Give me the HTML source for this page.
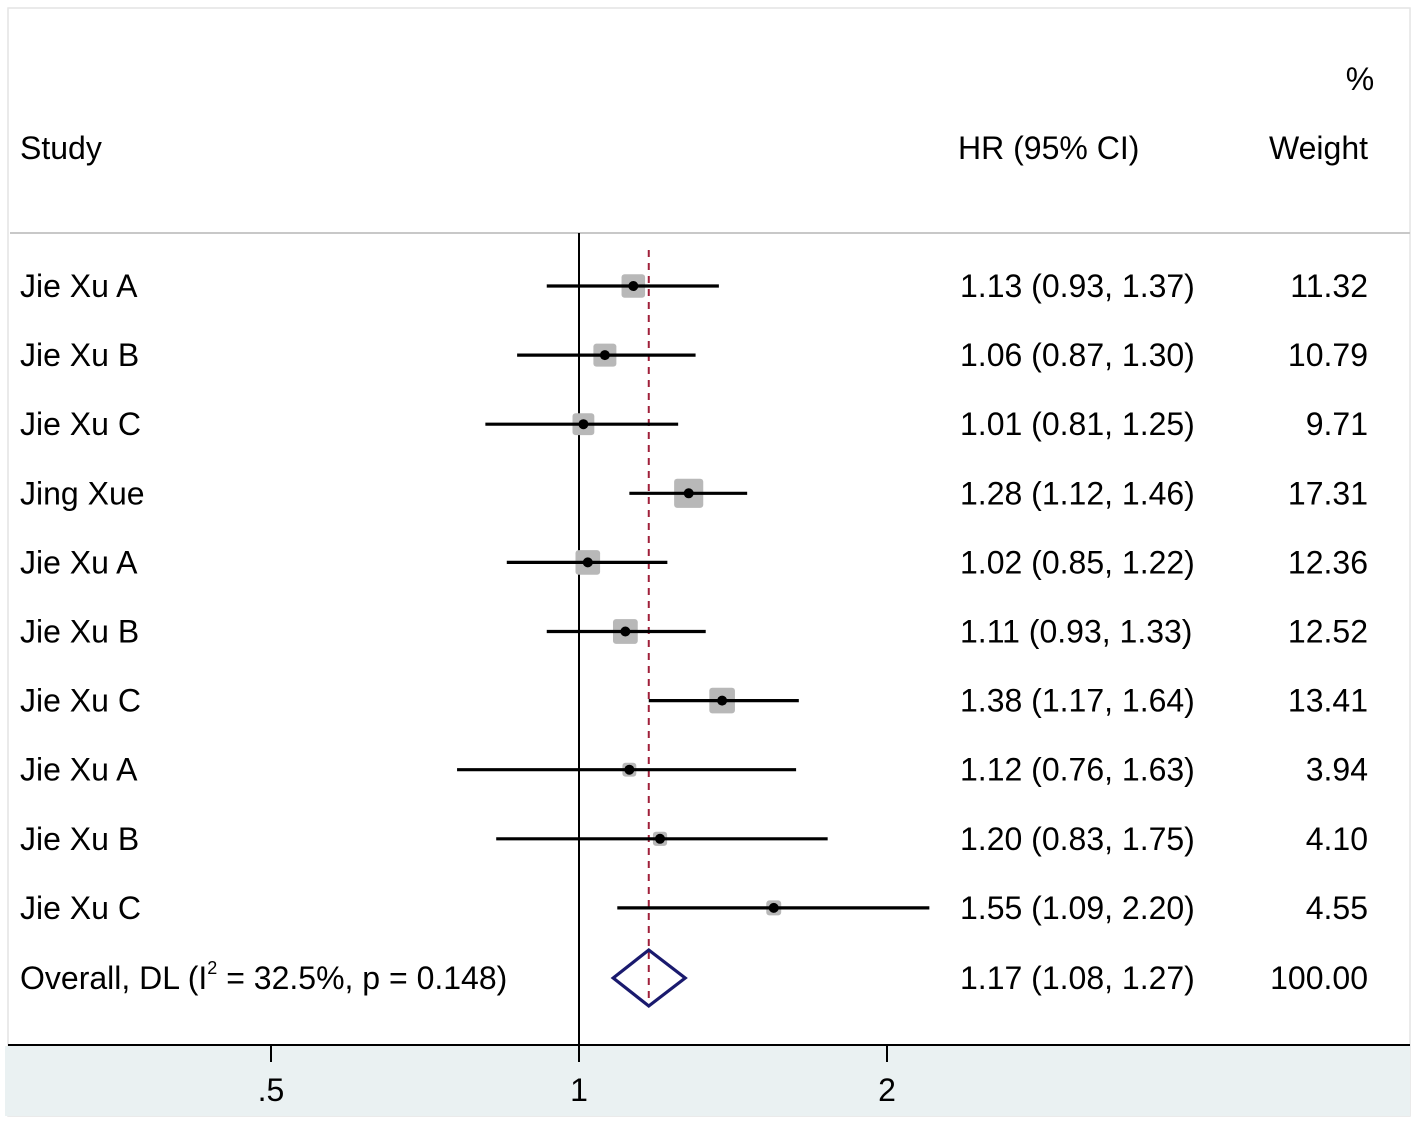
<!DOCTYPE html>
<html><head><meta charset="utf-8"><style>
html,body{margin:0;padding:0;background:#fff;}
svg{display:block;font-family:"Liberation Sans",Arial,sans-serif;}
</style></head><body>
<svg id="chart" width="1418" height="1123" viewBox="0 0 1418 1123">
<rect x="0" y="0" width="1418" height="1123" fill="#fff"/>
<rect x="8" y="8" width="1402" height="1108" fill="none" stroke="#e4e4e4" stroke-width="1.5"/>
<rect x="5" y="1046" width="1405" height="70" fill="#eaf1f2"/>
<line x1="10" y1="233" x2="1410" y2="233" stroke="#c8c8c8" stroke-width="2"/>
<line x1="8" y1="1045" x2="1410" y2="1045" stroke="#000" stroke-width="2"/>
<text x="1360" y="90" font-size="32" text-anchor="middle">%</text>
<text x="20" y="159" font-size="32">Study</text>
<text x="958" y="159" font-size="32">HR (95% CI)</text>
<text x="1368" y="159" font-size="32" text-anchor="end">Weight</text>
<g id="marks"></g>
</svg>
<script>
const studies = ["Jie Xu A","Jie Xu B","Jie Xu C","Jing Xue","Jie Xu A","Jie Xu B","Jie Xu C","Jie Xu A","Jie Xu B","Jie Xu C"];
const hr = [1.13,1.06,1.01,1.28,1.02,1.11,1.38,1.12,1.20,1.55];
const lower = [0.93,0.87,0.81,1.12,0.85,0.93,1.17,0.76,0.83,1.09];
const upper = [1.37,1.30,1.25,1.46,1.22,1.33,1.64,1.63,1.75,2.20];
const weights = [11.32,10.79,9.71,17.31,12.36,12.52,13.41,3.94,4.10,4.55];
const overallHR = 1.17, overallLo = 1.08, overallHi = 1.27;
const overallLabel = "Overall, DL (I";
const tickVals = [0.5,1,2];
const tickLabels = [".5","1","2"];

const NS="http://www.w3.org/2000/svg";
const g=document.getElementById('marks');
const X=v=>579+308*Math.log2(v);
const Y=i=>286+69.1*i;
function mk(t,a){const e=document.createElementNS(NS,t);for(const k in a)e.setAttribute(k,a[k]);g.appendChild(e);return e;}
const fmt=v=>v.toFixed(2);

let e=mk('line',{x1:X(1),y1:233,x2:X(1),y2:1045,stroke:'#000','stroke-width':2});


e=mk('line',{x1:X(overallHR),y1:250,x2:X(overallHR),y2:1006,stroke:'#a0203a','stroke-width':2,'stroke-dasharray':'7,6'});



for(let i=0;i<hr.length;i++){
  const y=Y(i);
  const s=7*Math.sqrt(weights[i]);
  e=mk('rect',{x:X(hr[i])-s/2,y:y-s/2,width:s,height:s,rx:3,fill:'#b8b8b8'});
  
  
  e=mk('line',{x1:X(lower[i]),y1:y,x2:X(upper[i]),y2:y,stroke:'#000','stroke-width':3.2});
  
  
  e=mk('circle',{cx:X(hr[i]),cy:y,r:5,fill:'#000'});
  
  
  e=mk('text',{x:20,y:y+11,'font-size':32});e.textContent=studies[i];
  
  
  e=mk('text',{x:960,y:y+11,'font-size':32});e.textContent=fmt(hr[i])+' ('+fmt(lower[i])+', '+fmt(upper[i])+')';
  
  
  e=mk('text',{x:1368,y:y+11,'font-size':32,'text-anchor':'end'});e.textContent=fmt(weights[i]);
  
  
}
const oy=Y(10)+1;
e=mk('polygon',{points:`${X(overallLo)},${oy} ${X(overallHR)},${oy-28} ${X(overallHi)},${oy} ${X(overallHR)},${oy+28}`,fill:'none',stroke:'#1a1a6e','stroke-width':3.2});


e=mk('text',{x:20,y:oy+11,'font-size':32});
e.innerHTML=overallLabel+'<tspan dy="-15" font-size="18">2</tspan><tspan dy="15"> = 32.5%, p = 0.148)</tspan>';


e=mk('text',{x:960,y:oy+11,'font-size':32});e.textContent=fmt(overallHR)+' ('+fmt(overallLo)+', '+fmt(overallHi)+')';


e=mk('text',{x:1368,y:oy+11,'font-size':32,'text-anchor':'end'});e.textContent='100.00';



for(let i=0;i<tickVals.length;i++){
  e=mk('line',{x1:X(tickVals[i]),y1:1045,x2:X(tickVals[i]),y2:1062,stroke:'#000','stroke-width':2});
  
  
  e=mk('text',{x:X(tickVals[i]),y:1101,'font-size':32,'text-anchor':'middle'});e.textContent=tickLabels[i];
  
  
}
</script>
</body></html>
